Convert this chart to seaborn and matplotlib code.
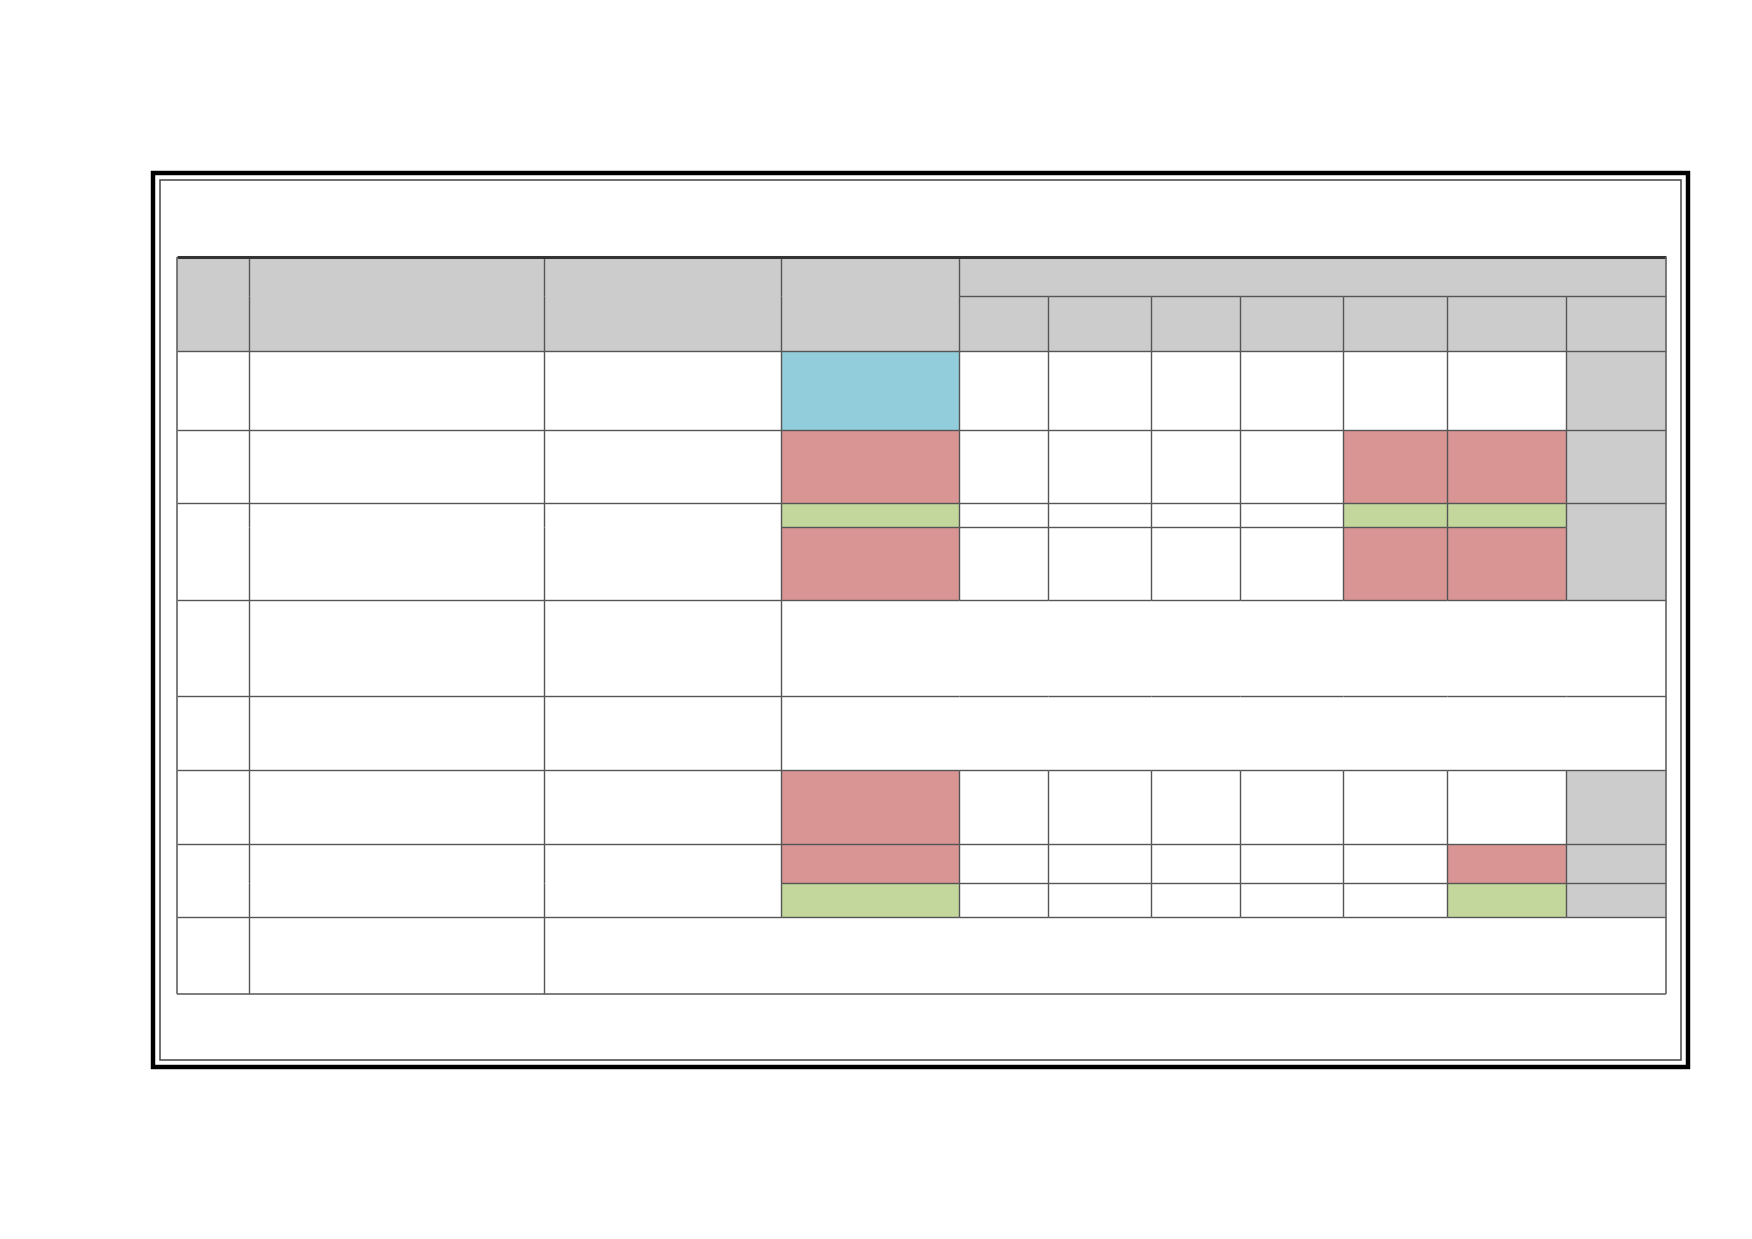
import numpy as np
import matplotlib
matplotlib.use("Agg")
import matplotlib.pyplot as plt
from matplotlib.colors import ListedColormap
from matplotlib.patches import Rectangle
import seaborn as sns

# Cell status per grid row (W white, G grey, B blue, R red, N green)
status_rows = [
    list("GGGGGGGGGGG"),
    list("GGGGGGGGGGG"),
    list("WWWBWWWWWWG"),
    list("WWWRWWWWRRG"),
    list("WWWNWWWWNNG"),
    list("WWWRWWWWRRG"),
    list("WWWWWWWWWWW"),
    list("WWWWWWWWWWW"),
    list("WWWRWWWWWWG"),
    list("WWWRWWWWWRG"),
    list("WWWNWWWWWNG"),
    list("WWWWWWWWWWW"),
]
status_codes = {"W": 0, "G": 1, "B": 2, "R": 3, "N": 4}
status_colors = ["#FFFFFF", "#CCCCCC", "#92CDDC", "#D99594", "#C3D69B"]

# merged cells: (row_start, row_end, col_start, col_end), inclusive
merged_cells = [
    (0, 1, 0, 0), (0, 1, 1, 1), (0, 1, 2, 2), (0, 1, 3, 3),
    (0, 0, 4, 10),
    (4, 5, 0, 0), (4, 5, 1, 1), (4, 5, 2, 2), (4, 5, 10, 10),
    (6, 6, 3, 10), (7, 7, 3, 10),
    (9, 10, 0, 0), (9, 10, 1, 1), (9, 10, 2, 2),
    (11, 11, 2, 10),
]

# layout: column widths / row heights in pixels
col_w = [65, 264, 212, 159, 80, 92, 80, 92, 93, 106, 90]
row_h = [35, 49, 71, 65, 22, 65, 86, 66, 66, 35, 31, 69]

codes = np.array([[status_codes[c] for c in r] for r in status_rows])
nr, nc = codes.shape

cell_id = np.arange(nr * nc).reshape(nr, nc)
for k, (r0, r1, c0, c1) in enumerate(merged_cells):
    cell_id[r0:r1 + 1, c0:c1 + 1] = 1000 + k

grid = np.repeat(np.repeat(codes, row_h, axis=0), col_w, axis=1)
xe = np.concatenate([[0], np.cumsum(col_w)])
ye = np.concatenate([[0], np.cumsum(row_h)])

sns.set_style("white")
fig = plt.figure(figsize=(17.52, 12.39), dpi=100)
ax = fig.add_axes([0.1008, 0.1974, 0.8502, 0.5952])
sns.heatmap(grid, ax=ax, cmap=ListedColormap(status_colors), vmin=-0.5, vmax=4.5,
            cbar=False, xticklabels=False, yticklabels=False, linewidths=0)
ax.axis("off")

line_kw = dict(color="#555555", linewidth=1.0, clip_on=False)

# vertical borders between different cells
for j in range(1, nc):
    for i in range(nr):
        if cell_id[i, j - 1] != cell_id[i, j]:
            ax.vlines(xe[j], ye[i], ye[i + 1], **line_kw)
# horizontal borders
for i in range(1, nr):
    for j in range(nc):
        if cell_id[i - 1, j] != cell_id[i, j]:
            ax.hlines(ye[i], xe[j], xe[j + 1], **line_kw)

# outer table border
ax.hlines(0, 0, xe[-1], color="#333333", linewidth=2.2, clip_on=False)
ax.hlines(ye[-1], 0, xe[-1], color="#666666", linewidth=1.2, clip_on=False)
ax.vlines([0, xe[-1]], 0, ye[-1], color="#666666", linewidth=1.2, clip_on=False)

# page frame
fig.patches.append(Rectangle((0.0874, 0.1387), 0.8762, 0.7215, transform=fig.transFigure,
                             fill=False, edgecolor="#000000", linewidth=3.2))
fig.patches.append(Rectangle((0.0914, 0.1443), 0.8682, 0.7103, transform=fig.transFigure,
                             fill=False, edgecolor="#555555", linewidth=1.2))

fig.savefig("out.png", dpi=100, facecolor="white")
